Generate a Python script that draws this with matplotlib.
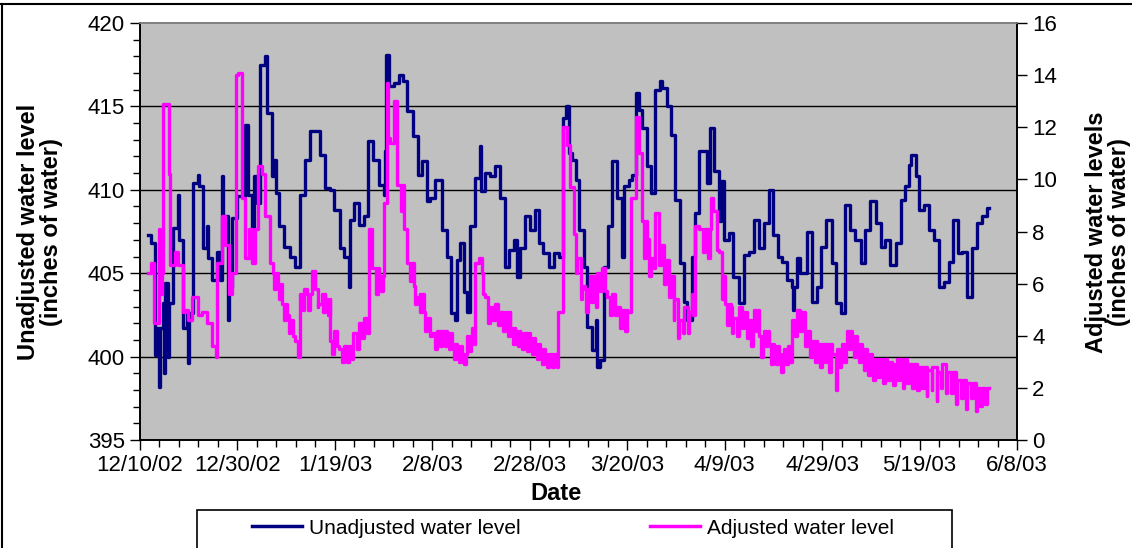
import datetime as dt
import pandas as pd
import matplotlib
matplotlib.use("Agg")
import matplotlib.pyplot as plt
import matplotlib.dates as mdates
from matplotlib.lines import Line2D
from matplotlib.patches import Rectangle
from matplotlib.ticker import MultipleLocator, FixedLocator

plt.rcParams["font.family"] = ["Liberation Sans", "DejaVu Sans"]

START = dt.datetime(2002, 12, 10)
END = dt.datetime(2003, 6, 8)

# logger steps: (days since 12/10/02, level)
unadj_steps = [
    (1.7, 407.3), (2.2, 406.8), (3.1, 400.1), (3.3, 401.7), (4.0, 398.2), (4.1, 401.7),
    (4.8, 403.2), (5.0, 399.0), (5.1, 404.4), (5.8, 400.0), (6.0, 403.2), (6.8, 407.7),
    (7.9, 409.7), (8.1, 407.0), (8.9, 401.7), (9.7, 402.6), (9.9, 399.6), (10.1, 402.6),
    (10.8, 410.4), (12.0, 410.9), (12.2, 410.2), (13.0, 406.5), (13.7, 407.8), (14.0, 405.9),
    (14.7, 404.6), (15.9, 406.3), (16.4, 404.6), (16.9, 410.8), (17.1, 408.4), (18.0, 402.2),
    (18.2, 404.2), (18.8, 408.3), (19.9, 409.6), (21.6, 413.9), (22.1, 409.7), (22.9, 407.6),
    (23.4, 410.8), (24.0, 409.2), (24.7, 417.5), (25.7, 418.0), (26.0, 414.6), (27.1, 410.8),
    (27.5, 411.8), (27.9, 409.8), (28.6, 407.8), (29.6, 406.6), (30.7, 406.0), (31.8, 405.4),
    (32.9, 409.7), (33.9, 411.8), (34.9, 413.5), (37.0, 412.1), (37.9, 410.1), (38.9, 410.0),
    (39.9, 408.8), (41.0, 406.5), (41.8, 406.0), (42.8, 404.2), (43.0, 408.2), (44.0, 409.2),
    (44.9, 407.9), (45.9, 408.4), (46.8, 412.9), (47.9, 411.8), (49.0, 410.3), (50.0, 409.7),
    (50.3, 412.3), (50.5, 418.1), (51.2, 416.2), (52.1, 416.4), (53.1, 416.9), (54.0, 416.5),
    (54.8, 414.7), (56.0, 413.2), (57.0, 410.9), (57.9, 411.7), (58.9, 409.3), (59.6, 409.5),
    (60.6, 410.6), (62.0, 407.6), (63.0, 406.0), (63.8, 402.6), (64.7, 402.2), (65.0, 405.8),
    (65.7, 406.8), (66.4, 403.9), (67.1, 402.7), (67.8, 407.8), (68.8, 410.7), (69.8, 412.6),
    (70.0, 409.9), (70.9, 411.0), (71.9, 410.8), (72.9, 411.4), (73.9, 409.5), (75.0, 405.4),
    (75.7, 406.4), (76.7, 407.0), (77.4, 404.8), (78.0, 406.5), (79.1, 408.4), (80.1, 407.6),
    (81.1, 408.8), (81.8, 406.8), (82.8, 406.2), (83.9, 405.4), (84.9, 406.2), (85.9, 406.0),
    (86.8, 414.3), (87.4, 415.0), (88.0, 412.2), (88.7, 411.8), (89.4, 410.6), (90.0, 407.6),
    (91.1, 405.4), (91.7, 401.8), (92.8, 400.4), (93.5, 402.2), (93.8, 399.4), (94.5, 399.8),
    (95.2, 405.4), (96.0, 407.8), (96.9, 411.7), (98.0, 409.5), (98.9, 406.0), (99.4, 410.2),
    (100.3, 410.6), (101.0, 410.9), (101.9, 415.8), (102.4, 414.8), (103.0, 413.7), (104.1, 411.4),
    (104.8, 409.8), (105.8, 416.0), (106.8, 416.5), (107.2, 416.1), (108.2, 415.0), (108.9, 413.3),
    (109.9, 409.4), (110.9, 405.6), (111.6, 403.3), (112.3, 402.2), (113.3, 406.0), (114.0, 408.6),
    (114.7, 412.3), (116.4, 410.4), (116.9, 413.7), (117.9, 411.1), (118.8, 408.1), (119.2, 410.5),
    (119.9, 407.0), (120.8, 407.4), (121.8, 404.8), (122.9, 403.2), (123.9, 406.1), (124.9, 406.3),
    (126.0, 408.2), (127.0, 406.5), (128.0, 408.0), (129.0, 410.0), (129.9, 407.3), (130.9, 406.0),
    (131.8, 405.7), (132.8, 404.6), (133.8, 404.2), (134.0, 402.8), (134.3, 404.2), (134.9, 405.9),
    (135.5, 405.0), (136.9, 407.5), (137.9, 403.3), (139.0, 404.2), (139.8, 406.6), (140.9, 408.2),
    (142.1, 405.6), (142.9, 403.2), (143.8, 402.6), (144.8, 409.1), (145.8, 407.6), (146.8, 407.0),
    (147.9, 405.6), (148.9, 407.6), (149.9, 409.3), (151.0, 408.0), (152.0, 406.6), (153.0, 407.0),
    (154.0, 405.5), (155.1, 406.8), (156.1, 409.4), (157.1, 410.2), (157.8, 411.5), (158.3, 412.1),
    (159.2, 410.8), (159.9, 408.8), (160.9, 409.1), (161.9, 407.6), (162.9, 407.0), (164.0, 404.2),
    (165.0, 404.5), (166.0, 405.7), (166.9, 408.2), (167.9, 406.2), (168.8, 406.3), (169.8, 403.6),
    (170.8, 406.5), (171.8, 408.0), (172.9, 408.4), (173.9, 408.9), (174.3, 408.9),
]

adj_steps = [
    (1.7, 6.4), (2.2, 6.8), (2.9, 4.5), (4.0, 8.1), (4.2, 5.6), (4.5, 6.4), (4.8, 12.9),
    (6.0, 10.2), (6.2, 6.7), (7.2, 7.2), (7.9, 6.7), (8.8, 4.9), (9.2, 5.0), (9.9, 4.6),
    (10.6, 5.5), (12.0, 4.8), (12.7, 4.9), (13.7, 4.5), (14.7, 3.6), (15.6, 3.2), (15.9, 6.8),
    (16.8, 8.6), (17.5, 7.5), (18.2, 5.6), (18.8, 6.4), (19.7, 14.0), (20.2, 14.1), (20.9, 9.3),
    (21.6, 7.0), (22.3, 8.1), (22.9, 6.8), (23.6, 8.1), (24.3, 10.5), (25.0, 10.2), (25.7, 8.6),
    (26.7, 6.8), (27.4, 6.4), (28.4, 6.0), (29.1, 5.2), (30.1, 4.8), (30.8, 4.6), (31.8, 3.8),
    (32.9, 5.6), (33.6, 5.8), (34.2, 5.6), (35.3, 6.5), (36.0, 5.8), (36.6, 5.2), (37.3, 5.6),
    (38.0, 5.4), (39.0, 3.8), (39.9, 4.2), (40.8, 3.5), (41.8, 3.6), (43.8, 4.1), (44.9, 4.5),
    (45.9, 4.7), (46.9, 8.1), (47.6, 6.6), (49.0, 6.3), (50.0, 9.1), (50.7, 13.7), (51.0, 11.6),
    (51.4, 11.4), (52.1, 13.0), (52.7, 9.8), (54.1, 8.1), (54.8, 6.8), (56.2, 5.9), (56.8, 5.5),
    (57.5, 5.6), (58.2, 4.9), (58.9, 4.7), (59.9, 4.1), (60.9, 4.2), (63.0, 4.1), (64.0, 3.7),
    (65.0, 3.6), (66.1, 3.3), (67.1, 4.0), (68.1, 4.3), (68.8, 6.8), (69.5, 7.0), (70.2, 6.4),
    (70.9, 5.5), (71.9, 5.1), (72.9, 5.2), (73.9, 4.9), (76.0, 4.3), (77.0, 4.2), (78.0, 4.1),
    (80.1, 3.9), (81.1, 3.7), (82.2, 3.5), (83.2, 3.3), (85.7, 4.9), (86.8, 12.0), (87.6, 11.3),
    (88.3, 9.7), (89.0, 7.9), (89.7, 7.0), (90.7, 5.9), (91.4, 5.8), (92.4, 6.3), (93.1, 5.9),
    (93.8, 6.4), (94.8, 6.6), (95.9, 5.5), (96.9, 5.6), (97.9, 5.1), (98.9, 5.0), (100.0, 4.9),
    (100.8, 9.3), (101.7, 12.4), (102.4, 11.0), (103.0, 8.4), (104.1, 7.7), (104.8, 7.0),
    (105.8, 8.7), (106.5, 7.5), (107.5, 6.9), (108.5, 6.3), (109.6, 5.4), (110.6, 4.6),
    (111.6, 5.1), (112.6, 4.9), (113.3, 5.6), (114.0, 8.2), (114.7, 8.1), (117.1, 9.3),
    (117.7, 8.8), (118.8, 7.2), (119.5, 6.3), (120.1, 5.2), (121.2, 5.1), (121.8, 4.7),
    (122.9, 5.1), (123.9, 4.9), (124.9, 4.6), (126.0, 5.0), (127.0, 4.0), (128.0, 4.2),
    (129.0, 3.7), (130.1, 3.6), (131.1, 3.3), (132.1, 3.5), (132.9, 3.6), (133.8, 4.6),
    (134.9, 5.0), (135.9, 4.9), (136.9, 4.2), (137.9, 3.8), (139.0, 3.7), (142.1, 3.3),
    (142.9, 1.9), (143.1, 3.5), (144.1, 3.7), (145.1, 4.2), (146.2, 4.0), (147.2, 3.7),
    (148.2, 3.5), (149.2, 3.3), (150.3, 3.1), (153.4, 3.0), (154.4, 2.9), (155.4, 3.1),
    (157.5, 2.9), (159.5, 2.8), (161.6, 2.7), (162.6, 2.8), (163.6, 2.6), (164.7, 2.9),
    (165.7, 2.6), (167.7, 2.3), (169.8, 2.2), (171.8, 2.0), (174.3, 2.0),
]

# short daily drawdowns in the adjusted record: (day, low level)
adj_dips = [
    (27.5, 5.8), (28.5, 5.4), (29.5, 4.6), (30.5, 4.1), (31.5, 4.0), (32.5, 3.2), (33.5, 5.0),
    (34.5, 5.0), (35.5, 5.9), (36.5, 5.1), (37.5, 4.9), (38.5, 4.8), (39.5, 3.3), (40.5, 3.6),
    (41.5, 3.0), (42.5, 3.0), (43.5, 3.1), (44.5, 3.5), (45.5, 3.9), (46.5, 4.1), (48.5, 5.6),
    (49.5, 5.7), (53.5, 8.8), (55.5, 6.1), (56.5, 5.2), (57.5, 4.9), (58.5, 4.2), (59.5, 4.0),
    (60.5, 3.5), (61.5, 3.6), (62.5, 3.6), (63.5, 3.5), (64.5, 3.1), (65.5, 3.0), (66.5, 2.9),
    (67.5, 3.4), (68.5, 3.7), (70.5, 5.6), (71.5, 4.5), (72.5, 4.6), (73.5, 4.4), (74.5, 4.2),
    (75.5, 4.0), (76.5, 3.7), (77.5, 3.6), (78.5, 3.5), (79.5, 3.4), (80.5, 3.3), (81.5, 3.1),
    (82.5, 2.9), (83.5, 2.8), (84.5, 2.8), (85.5, 2.8), (89.5, 6.4), (90.5, 5.4), (91.5, 4.9),
    (92.5, 5.3), (93.5, 5.1), (94.5, 5.7), (95.5, 5.7), (96.5, 4.8), (97.5, 4.8), (98.5, 4.3),
    (99.5, 4.2), (103.5, 7.0), (104.5, 6.3), (105.5, 6.6), (106.5, 6.7), (107.5, 6.0),
    (108.5, 5.5), (109.5, 4.6), (110.5, 3.9), (111.5, 4.1), (112.5, 4.1), (113.5, 4.8),
    (115.5, 7.2), (116.5, 7.0), (118.5, 7.3), (119.5, 5.4), (120.5, 4.4), (121.5, 4.1),
    (122.5, 4.0), (123.5, 4.3), (124.5, 3.9), (125.5, 3.6), (126.5, 4.2), (127.5, 3.2),
    (128.5, 3.6), (129.5, 2.9), (130.5, 2.9), (131.5, 2.6), (132.5, 2.9), (133.5, 3.0),
    (134.5, 4.0), (135.5, 4.2), (136.5, 3.6), (137.5, 3.2), (138.5, 3.0), (139.5, 2.8),
    (140.5, 3.0), (141.5, 2.6), (143.5, 2.8), (144.5, 3.0), (145.5, 3.5), (146.5, 3.2),
    (147.5, 3.0), (148.5, 2.7), (149.5, 2.5), (150.5, 2.3), (151.5, 2.4), (152.5, 2.2),
    (153.5, 2.3), (154.5, 2.1), (155.5, 2.3), (156.5, 2.0), (157.5, 2.2), (158.5, 2.0),
    (159.5, 1.9), (160.5, 2.0), (161.5, 1.7), (162.5, 1.9), (163.5, 1.5), (164.5, 2.0),
    (165.5, 1.8), (166.5, 1.8), (167.5, 1.4), (168.5, 1.6), (169.5, 1.2), (170.5, 1.6),
    (171.5, 1.1), (172.5, 1.3), (173.5, 1.4),
]
DIP_LENGTH = 0.4  # days


def to_frame(steps):
    df = pd.DataFrame(steps, columns=["day", "level"])
    df["date"] = START + pd.to_timedelta(df["day"], unit="D")
    return df


def with_dips(steps, dips):
    base = pd.DataFrame(steps, columns=["day", "level"])
    dip = pd.DataFrame(dips, columns=["day", "level"])
    # after each dip the record returns to the level in force at that time
    back = pd.DataFrame({"day": dip["day"] + DIP_LENGTH})
    back = pd.merge_asof(back, base, on="day")
    merged = pd.concat([base, dip, back]).sort_values("day", kind="stable")
    return list(merged.itertuples(index=False, name=None))


unadj = to_frame(unadj_steps)
adj = to_frame(with_dips(adj_steps, adj_dips))

major_dates = pd.date_range(START, END, freq="20D")
minor_dates = pd.date_range(START, END, freq="4D")
date_labels = [f"{d.month}/{d.day}/{d:%y}" for d in major_dates]

fig = plt.figure(figsize=(11.32, 5.48), dpi=100)
ax = fig.add_axes([140 / 1132, 1 - 440 / 548, 877 / 1132, 417 / 548])
ax2 = ax.twinx()

ax.set_facecolor("#c0c0c0")
for y in (400, 405, 410, 415):
    ax.axhline(y, color="black", lw=1.0, zorder=1)

ax.step(unadj["date"], unadj["level"], where="post", color="#000080", lw=2.4, zorder=3)
ax2.step(adj["date"], adj["level"], where="post", color="#ff00ff", lw=2.4, zorder=3)

ax.set_xlim(START, END)
ax.set_ylim(395, 420)
ax2.set_ylim(0, 16)

ax.xaxis.set_major_locator(FixedLocator(mdates.date2num(major_dates)))
ax.xaxis.set_minor_locator(FixedLocator(mdates.date2num(minor_dates)))
ax.set_xticklabels(date_labels)
ax.yaxis.set_major_locator(MultipleLocator(5))
ax.yaxis.set_minor_locator(MultipleLocator(1))
ax2.yaxis.set_major_locator(MultipleLocator(2))

for a in (ax, ax2):
    a.tick_params(which="major", direction="out", length=7, width=1, labelsize=16, pad=4)
    a.tick_params(which="minor", direction="out", length=5, width=1)
    for s in a.spines.values():
        s.set_linewidth(1.2)
    a.spines["top"].set_color("#808080")

fig.text(40 / 1132, 1 - 232 / 548, "Unadjusted water level\n(inches of water)",
         rotation=90, ha="center", va="center", fontsize=17, fontweight="bold", linespacing=1.05)
fig.text(1108 / 1132, 1 - 232 / 548, "Adjusted water levels\n(inches of water)",
         rotation=90, ha="center", va="center", fontsize=17, fontweight="bold", linespacing=1.05)
fig.text(556 / 1132, 1 - 493 / 548, "Date", ha="center", va="center", fontsize=17, fontweight="bold")

# legend box along the bottom edge
fig.patches.append(Rectangle((197 / 1132, -0.01), 755 / 1132, 1 - 510 / 548 + 0.01,
                             transform=fig.transFigure, fill=True, facecolor="white",
                             edgecolor="black", lw=1.2))
handles = [Line2D([], [], color="#000080", lw=2.5), Line2D([], [], color="#ff00ff", lw=2.5)]
fig.legend(handles, ["Unadjusted water level", "Adjusted water level"], loc="center",
           bbox_to_anchor=(573 / 1132, 1 - 528 / 548), ncol=2, frameon=False, fontsize=15,
           handlelength=2.4, handletextpad=0.35, columnspacing=6.2)

# outer chart border
fig.add_artist(Line2D([0, 1], [1 - 4 / 548] * 2, transform=fig.transFigure, color="black", lw=1.5))
fig.add_artist(Line2D([1.5 / 1132] * 2, [0, 1 - 4 / 548], transform=fig.transFigure, color="black", lw=1.5))

fig.savefig("out.png", dpi=100)
plt.close(fig)
